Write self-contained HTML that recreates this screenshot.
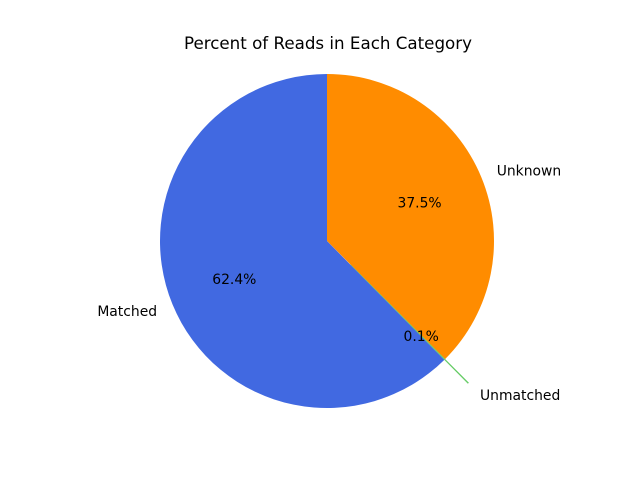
<!DOCTYPE html>
<html><head><meta charset="utf-8"><style>
html,body{margin:0;padding:0;background:#fff;}
svg{display:block;font-family:"DejaVu Sans","Liberation Sans",sans-serif;}
</style></head><body>
<svg id="chart" width="640" height="480" viewBox="0 0 640 480">
<text x="328" y="49" text-anchor="middle" font-size="16.7">Percent of Reads in Each Category</text>
<g id="wedges"></g><g id="labels"></g>
</svg>
<script>
const categories = ["Unknown", "Unmatched", "Matched"];
const values = [37.5, 0.1, 62.4];
const pctLabels = ["37.5%", "0.1%", "62.4%"];
const colors = ["#ff8c00", "#66cc66", "#4169e1"];
const explode = [0, 0.2, 0];
const cx = 327, cy = 241, R = 167;
const NS = "http://www.w3.org/2000/svg";
const total = values.reduce((a, b) => a + b, 0);
const wg = document.getElementById("wedges"), lg = document.getElementById("labels");
let a = 90;
values.forEach((v, i) => {
  const span = v / total * 360;
  const a1 = a, a2 = a - span, mid = (a1 + a2) / 2;
  const rad = d => d * Math.PI / 180;
  const ox = cx + explode[i] * R * Math.cos(rad(mid)), oy = cy - explode[i] * R * Math.sin(rad(mid));
  const p = (ang, r) => [ox + r * Math.cos(rad(ang)), oy - r * Math.sin(rad(ang))];
  const s = p(a1, R), e = p(a2, R);
  const path = document.createElementNS(NS, "path");
  path.setAttribute("d", `M${ox},${oy} L${s[0]},${s[1]} A${R},${R} 0 ${span > 180 ? 1 : 0} 1 ${e[0]},${e[1]} Z`);
  path.setAttribute("fill", colors[i]);
  if (span < 1) { path.setAttribute("stroke", colors[i]); path.setAttribute("stroke-width", "0.5"); }
  
  
  wg.appendChild(path);
  const lp = p(mid, R * 1.1);
  const t = document.createElementNS(NS, "text");
  t.setAttribute("x", lp[0]); t.setAttribute("y", lp[1] + 5);
  t.setAttribute("font-size", "13.9");
  t.setAttribute("text-anchor", Math.cos(rad(mid)) >= 0 ? "start" : "end");
  t.textContent = categories[i];
  
  
  lg.appendChild(t);
  const pp = p(mid, R * 0.6);
  const t2 = document.createElementNS(NS, "text");
  t2.setAttribute("x", pp[0]); t2.setAttribute("y", pp[1] + 5);
  t2.setAttribute("font-size", "13.9");
  t2.setAttribute("text-anchor", "middle");
  t2.textContent = pctLabels[i];
  
  
  lg.appendChild(t2);
  a = a2;
});
</script>
</body></html>
